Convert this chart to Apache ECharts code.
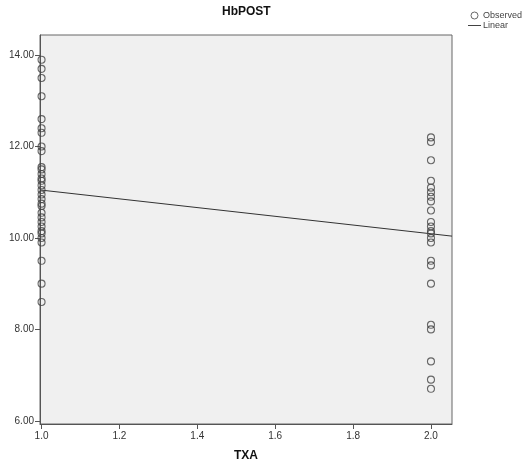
<!DOCTYPE html>
<html>
<head>
<meta charset="utf-8">
<script src="https://cdn.jsdelivr.net/npm/echarts@6/dist/echarts.min.js"></script>
<style>
html,body{margin:0;padding:0;background:#fff;}
#main{width:531px;height:467px;}
</style>
</head>
<body>
<div id="main"></div>
<script>
var myChart = echarts.init(document.getElementById('main'));

// observed HbPOST, group TXA = 1
var hb1 = [13.9, 13.7, 13.5, 13.1, 12.6, 12.4, 12.3, 12.0, 11.9,
    11.55, 11.5, 11.4, 11.3, 11.25, 11.15, 11.05, 10.95, 10.85, 10.75,
    10.7, 10.55, 10.45, 10.35, 10.25, 10.15, 10.1, 10.0, 9.9, 9.5, 9.0, 8.6];
// observed HbPOST, group TXA = 2
var hb2 = [12.2, 12.1, 11.7, 11.25, 11.1, 11.0, 10.9, 10.8, 10.6,
    10.35, 10.25, 10.15, 10.1, 10.0, 9.9, 9.5, 9.4, 9.0, 8.1, 8.0, 7.3, 6.9, 6.7];
// linear fit (edge to edge)
var fitX = [0.996, 2.054];
var fitY = [11.05, 10.04];
var xTicks = [1.0, 1.2, 1.4, 1.6, 1.8, 2.0];
var yTicks = [6, 8, 10, 12, 14];

var observed = [];
hb1.forEach(function (v) { observed.push([1, v]); });
hb2.forEach(function (v) { observed.push([2, v]); });
var fitData = [[fitX[0], fitY[0]], [fitX[1], fitY[1]]];

var fontName = 'Liberation Sans, Arial, sans-serif';

var option = {
    animation: false,
    textStyle: { fontFamily: fontName },
    graphic: [{
        type: 'text',
        left: 222,
        top: 6,
        style: { text: 'HbPOST', font: 'bold 12px ' + fontName, fill: '#111' }
    }],
    legend: {
        orient: 'vertical',
        left: 463,
        top: 6,
        itemWidth: 13,
        itemHeight: 7,
        itemGap: 1,
        textStyle: { fontSize: 9, color: '#444', padding: [0, 0, 0, -3] },
        data: [
            { name: 'Observed', icon: 'circle', itemStyle: { color: '#fff', borderColor: '#444', borderWidth: 1 } },
            { name: 'Linear', icon: 'path://M0,0 L14,0 L14,1 L0,1 Z', itemStyle: { color: '#333' } }
        ]
    },
    grid: {
        show: true,
        left: 40,
        right: 79,
        top: 35,
        bottom: 42,
        backgroundColor: '#f0f0f0',
        borderColor: '#666',
        borderWidth: 1
    },
    xAxis: {
        type: 'value',
        min: 0.996,
        max: 2.054,
        name: 'TXA',
        nameLocation: 'middle',
        nameGap: 26,
        nameTextStyle: { fontWeight: 'bold', fontSize: 12, color: '#111' },
        axisLine: { lineStyle: { color: '#555' } },
        axisTick: { customValues: xTicks, length: 5, lineStyle: { color: '#555' } },
        axisLabel: {
            customValues: xTicks,
            fontSize: 10,
            color: '#333',
            margin: 7,
            formatter: function (v) { return v.toFixed(1); }
        },
        splitLine: { show: false }
    },
    yAxis: {
        type: 'value',
        min: 5.93,
        max: 14.44,
        axisLine: { show: true, lineStyle: { color: '#555' } },
        axisTick: { show: true, customValues: yTicks, length: 5, lineStyle: { color: '#555' } },
        axisLabel: {
            customValues: yTicks,
            fontSize: 10,
            color: '#333',
            margin: 6,
            formatter: function (v) { return v.toFixed(2); }
        },
        splitLine: { show: false }
    },
    series: [
        {
            name: 'Observed',
            type: 'scatter',
            symbol: 'circle',
            symbolSize: 7,
            itemStyle: { color: 'transparent', borderColor: '#444', borderWidth: 1.1 },
            data: observed,
            z: 3
        },
        {
            name: 'Linear',
            type: 'line',
            symbol: 'none',
            lineStyle: { color: '#333', width: 1 },
            itemStyle: { color: '#333' },
            data: fitData,
            z: 2
        }
    ]
};
myChart.setOption(option);
</script>
</body>
</html>
